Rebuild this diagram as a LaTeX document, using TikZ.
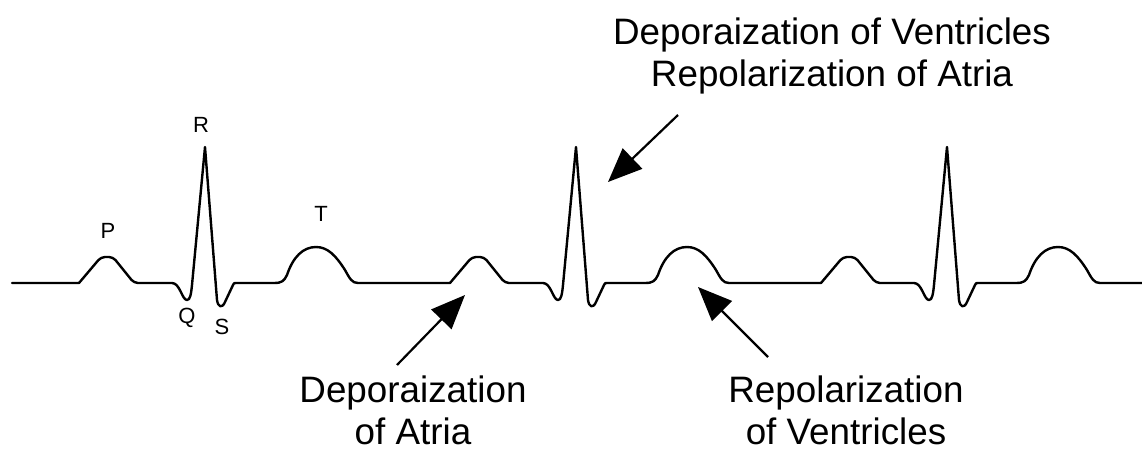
\documentclass[tikz,border=0pt]{standalone}
\usepackage{fontspec}
\setmainfont{Liberation Sans}
\usetikzlibrary{arrows.meta}

\begin{document}
\begin{tikzpicture}[x=0.5pt,y=-0.5pt,
  wave/.style={line width=1.2pt,line join=round,line cap=round},
  pointer/.style={line width=1.1pt,-{Triangle[length=17pt,width=14pt]}},
  wavelabel/.style={inner sep=0pt,font=\fontsize{11}{13}\selectfont},
  note/.style={inner sep=0pt,anchor=north,align=center,font=\fontsize{18.4}{21}\selectfont}]
 \useasboundingbox (0,0) rectangle (1142,449);
 \draw[wave] (12,283) foreach \o in {0,371,742} {
   -- (\o+79,283) [rounded corners=2pt] -- (\o+101,257) -- (\o+113,257) -- (\o+134,283) [sharp corners]
   -- (\o+172,283) .. controls (\o+180,283) and (\o+182,300) .. (\o+187,300) .. controls (\o+190,300) and (\o+191,295) .. (\o+192,285)
   -- (\o+205,147) -- (\o+217,300) .. controls (\o+218,307) and (\o+222,309) .. (\o+225,302) -- (\o+233,285) .. controls (\o+234,283) .. (\o+236,283)
   -- (\o+274,283) .. controls (\o+282,283) and (\o+284,281) .. (\o+287,275) .. controls (\o+293,257) and (\o+303,247) .. (\o+316,247)
   .. controls (\o+328,247) and (\o+336,256) .. (\o+345,270) .. controls (\o+350,279) and (\o+352,283) .. (\o+358,283)
 } -- (1142,283);
 \node[wavelabel] (p) at (108,231) {P};
 \node[wavelabel] (r) at (201,125) {R};
 \node[wavelabel] (t) at (321,214) {T};
 \node[wavelabel] (q) at (187,318) {Q};
 \node[wavelabel] (s) at (222,327) {S};
 \node[note] (qrs) at (832,17) {Deporaization of Ventricles\\Repolarization of Atria};
 \node[note] (atria) at (413,375) {Deporaization\\of Atria};
 \node[note] (ventricles) at (846,375) {Repolarization\\of Ventricles};
 \coordinate (qrs tail) at (678,115);
 \coordinate (qrs tip) at (608,182);
 \coordinate (atria tail) at (397,365);
 \coordinate (atria tip) at (465,295);
 \coordinate (ventricles tail) at (768,357);
 \coordinate (ventricles tip) at (698,287);
 \draw[pointer] (qrs tail) -- (qrs tip);
 \draw[pointer] (atria tail) -- (atria tip);
 \draw[pointer] (ventricles tail) -- (ventricles tip);
\end{tikzpicture}
\end{document}
